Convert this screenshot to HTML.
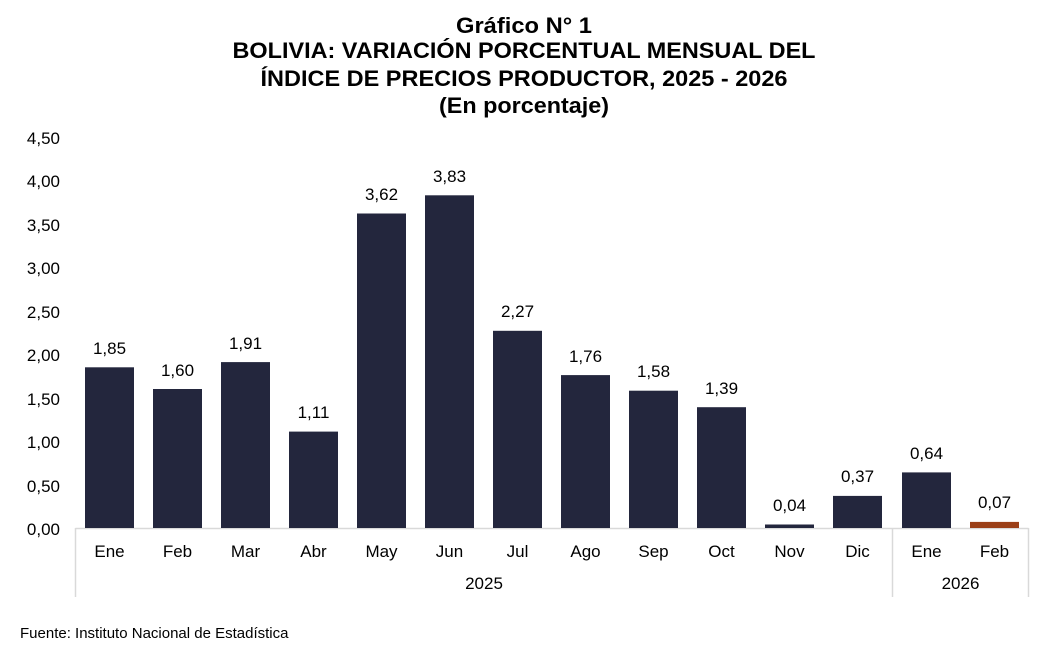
<!DOCTYPE html>
<html><head><meta charset="utf-8"><style>
html,body{margin:0;padding:0;background:#fff;}
svg{display:block;font-family:"Liberation Sans",sans-serif;}
</style></head><body>
<svg width="1047" height="655" viewBox="0 0 1047 655" xmlns="http://www.w3.org/2000/svg">
<g font-weight="bold" font-size="22" text-anchor="middle" fill="#000">
<text x="524" y="33" textLength="136" lengthAdjust="spacingAndGlyphs">Gráfico N° 1</text>
<text x="524" y="58" textLength="583" lengthAdjust="spacingAndGlyphs">BOLIVIA: VARIACIÓN PORCENTUAL MENSUAL DEL</text>
<text x="524" y="86" textLength="527" lengthAdjust="spacingAndGlyphs">ÍNDICE DE PRECIOS PRODUCTOR, 2025 - 2026</text>
<text x="524" y="113" textLength="170" lengthAdjust="spacingAndGlyphs">(En porcentaje)</text>
</g>
<g font-size="17" text-anchor="end" fill="#000">
<text x="60" y="144">4,50</text>
<text x="60" y="187">4,00</text>
<text x="60" y="231">3,50</text>
<text x="60" y="274">3,00</text>
<text x="60" y="318">2,50</text>
<text x="60" y="361">2,00</text>
<text x="60" y="405">1,50</text>
<text x="60" y="448">1,00</text>
<text x="60" y="492">0,50</text>
<text x="60" y="535">0,00</text>
</g>
<g stroke="#d9d9d9" stroke-width="1.5" fill="none">
<line x1="75.5" y1="528.5" x2="1028.5" y2="528.5"/>
<line x1="75.5" y1="528" x2="75.5" y2="597"/>
<line x1="892.5" y1="528" x2="892.5" y2="597"/>
<line x1="1028.5" y1="528" x2="1028.5" y2="597"/>
</g>
<g fill="#23263d">
<rect x="85" y="367.3" width="49" height="160.7"/>
<rect x="153" y="389" width="49" height="139"/>
<rect x="221" y="362.1" width="49" height="165.9"/>
<rect x="289" y="431.6" width="49" height="96.4"/>
<rect x="357" y="213.5" width="49" height="314.5"/>
<rect x="425" y="195.3" width="49" height="332.7"/>
<rect x="493" y="330.8" width="49" height="197.2"/>
<rect x="561" y="375.1" width="49" height="152.9"/>
<rect x="629" y="390.7" width="49" height="137.3"/>
<rect x="697" y="407.2" width="49" height="120.8"/>
<rect x="765" y="524.5" width="49" height="3.5"/>
<rect x="833" y="495.9" width="49" height="32.1"/>
<rect x="902" y="472.4" width="49" height="55.6"/>
</g>
<rect x="970" y="521.9" width="49" height="6.1" fill="#9b3f17"/>
<g font-size="17" text-anchor="middle" fill="#000">
<text x="109.5" y="354">1,85</text>
<text x="177.5" y="376">1,60</text>
<text x="245.5" y="349">1,91</text>
<text x="313.5" y="418">1,11</text>
<text x="381.5" y="200">3,62</text>
<text x="449.5" y="182">3,83</text>
<text x="517.5" y="317">2,27</text>
<text x="585.5" y="362">1,76</text>
<text x="653.5" y="377">1,58</text>
<text x="721.5" y="394">1,39</text>
<text x="789.5" y="511">0,04</text>
<text x="857.5" y="482">0,37</text>
<text x="926.5" y="459">0,64</text>
<text x="994.5" y="508">0,07</text>
</g>
<g font-size="17" text-anchor="middle" fill="#000">
<text x="109.5" y="557">Ene</text>
<text x="177.5" y="557">Feb</text>
<text x="245.5" y="557">Mar</text>
<text x="313.5" y="557">Abr</text>
<text x="381.5" y="557">May</text>
<text x="449.5" y="557">Jun</text>
<text x="517.5" y="557">Jul</text>
<text x="585.5" y="557">Ago</text>
<text x="653.5" y="557">Sep</text>
<text x="721.5" y="557">Oct</text>
<text x="789.5" y="557">Nov</text>
<text x="857.5" y="557">Dic</text>
<text x="926.5" y="557">Ene</text>
<text x="994.5" y="557">Feb</text>
<text x="484" y="589">2025</text>
<text x="960.5" y="589">2026</text>
</g>
<text x="20" y="638" font-size="15" fill="#000">Fuente: Instituto Nacional de Estadística</text>
</svg>
</body></html>
